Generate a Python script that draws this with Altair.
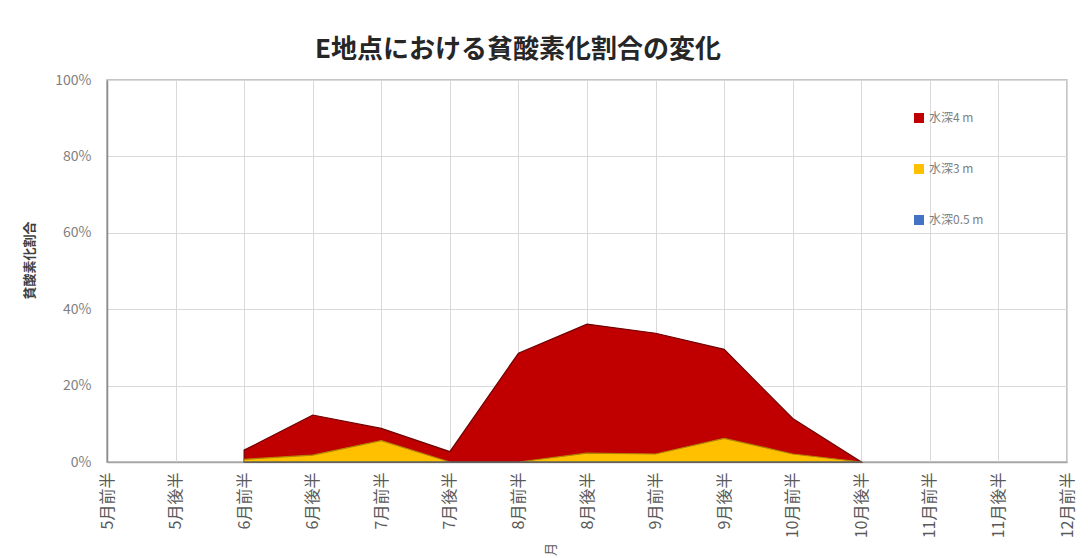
import altair as alt
import pandas as pd

# Half-month periods on the x axis
periods = ["5月前半", "5月後半", "6月前半", "6月後半", "7月前半", "7月後半",
           "8月前半", "8月後半", "9月前半", "9月後半", "10月前半", "10月後半",
           "11月前半", "11月後半", "12月前半"]

# Share of hypoxic observations per depth (None = no survey)
depth_4m = [None, None, 0.031, 0.123, 0.088, 0.027, 0.285, 0.361, 0.337,
            0.295, 0.114, 0.0, None, None, None]
depth_3m = [None, None, 0.007, 0.018, 0.056, 0.0, 0.0, 0.023, 0.021,
            0.062, 0.021, 0.0, None, None, None]
depth_05m = [None, None, 0.0, 0.0, 0.0, 0.0, 0.0, 0.0, 0.0,
             0.0, 0.0, 0.0, None, None, None]

series_names = ["水深4 m", "水深3 m", "水深0.5 m"]
series_colors = ["#C00000", "#FFC000", "#4472C4"]
series_strokes = ["#6e0000", "#b08400", "#2f528f"]

rows = []
for name, vals in zip(series_names, [depth_4m, depth_3m, depth_05m]):
    for p, v in zip(periods, vals):
        if v is not None:
            rows.append({"period": p, "depth": name, "ratio": v})
df = pd.DataFrame(rows)

FONT = "Noto Sans CJK JP"

x_enc = alt.X(
    "period:O",
    scale=alt.Scale(type="point", domain=periods, padding=0),
    axis=alt.Axis(
        title="月", titleAngle=-90, titleX=443, titleY=87,
        titleAlign="center", titleBaseline="middle",
        titleFontSize=13, titleFontWeight="normal", titleColor="#595959",
        labelAngle=-90, labelFontSize=16, labelColor="#595959",
        labelPadding=10, ticks=False, grid=True, gridColor="#d9d9d9",
        domainColor="#a6a6a6", domainWidth=1.5, labelFont=FONT, titleFont=FONT,
    ),
)
y_enc = alt.Y(
    "ratio:Q",
    scale=alt.Scale(domain=[0, 1], nice=False),
    axis=alt.Axis(
        title="貧酸素化割合", titleX=-78, titleY=180, titleAngle=-90,
        titleAlign="center", titleBaseline="middle",
        titleFontSize=13, titleFontWeight="bold", titleColor="#404040",
        values=[0, 0.2, 0.4, 0.6, 0.8, 1.0], format=".0%",
        labelFontSize=14, labelColor="#7f7f7f", labelPadding=16,
        ticks=False, grid=True, gridColor="#d9d9d9",
        domainColor="#8c8c8c", domainWidth=1.5, labelFont=FONT, titleFont=FONT,
    ),
)
color_enc = alt.Color(
    "depth:N",
    scale=alt.Scale(domain=series_names, range=series_colors),
    legend=alt.Legend(
        title=None, orient="none", legendX=806, legendY=32,
        symbolType="square", symbolSize=100, symbolStrokeWidth=0,
        labelFontSize=12, labelColor="#7f7f7f", labelFont=FONT,
        rowPadding=39, symbolOpacity=1,
    ),
)

layers = []
for name, stroke in zip(series_names, series_strokes):
    layers.append(
        alt.Chart(df)
        .transform_filter(alt.datum.depth == name)
        .mark_area(opacity=1, stroke=stroke, strokeWidth=1.2)
        .encode(x=x_enc, y=y_enc, color=color_enc)
    )

chart = (
    alt.layer(*layers)
    .properties(
        width=960,
        height=382,
        autosize=alt.AutoSizeParams(type="none"),
        padding={"left": 107, "top": 80, "right": 21, "bottom": 96},
        title=alt.TitleParams(
            "E地点における貧酸素化割合の変化",
            anchor="middle", dx=-69, offset=10, fontSize=26,
            fontWeight="bold", color="#262626", font=FONT,
        ),
        background="white",
    )
    .configure_view(stroke="#b3b3b3", strokeWidth=1.5)
)

chart.save("out.html", embed_options={"renderer": "svg", "actions": False})
